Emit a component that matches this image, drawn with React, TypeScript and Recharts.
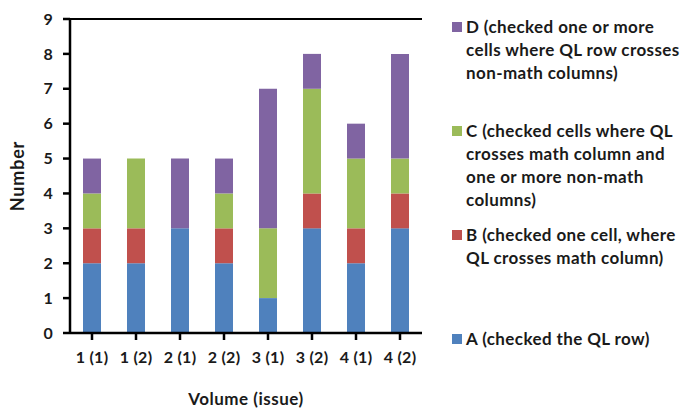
import React from 'react';
import { BarChart, Bar, XAxis, YAxis, CartesianGrid, Legend, ReferenceLine } from 'recharts';

const categories = ['1 (1)', '1 (2)', '2 (1)', '2 (2)', '3 (1)', '3 (2)', '4 (1)', '4 (2)'];
const seriesA = [2, 2, 3, 2, 1, 3, 2, 3];
const seriesB = [1, 1, 0, 1, 0, 1, 1, 1];
const seriesC = [1, 2, 0, 1, 2, 3, 2, 1];
const seriesD = [1, 0, 2, 1, 4, 1, 1, 3];
const yTicks = [0, 1, 2, 3, 4, 5, 6, 7, 8, 9];

const seriesKeys = ['A', 'B', 'C', 'D'];
const seriesColors = ['#4F81BD', '#C0504D', '#9BBB59', '#8064A2'];
const seriesLabels = [
  ['A (checked the QL row)'],
  ['B (checked one cell, where', 'QL crosses math column)'],
  ['C (checked cells where QL', 'crosses math column and', 'one or more non-math', 'columns)'],
  ['D (checked one or more', 'cells where QL row crosses', 'non-math columns)'],
];

const data = categories.map((c, i) => ({
  name: c,
  A: seriesA[i],
  B: seriesB[i],
  C: seriesC[i],
  D: seriesD[i],
}));

const FONT = 'Lato, "Open Sans", sans-serif';
const TEXT = '#1a1a1a';

const LegendContent = () => {
  const order = [3, 2, 1, 0];
  return (
    <div style={{ fontFamily: FONT, fontWeight: 700, fontSize: 17, letterSpacing: 0.4, color: TEXT }}>
      {order.map((i) => (
        <div key={seriesKeys[i]} style={{ height: 104, display: 'flex', alignItems: 'flex-start' }}>
          <div
            style={{
              width: 10,
              height: 10,
              background: seriesColors[i],
              marginTop: 7,
              marginRight: 4,
              flex: 'none',
            }}
          />
          <div style={{ lineHeight: '23px' }}>
            {seriesLabels[i].map((l, j) => (
              <div key={j} style={{ whiteSpace: 'nowrap' }}>{l}</div>
            ))}
          </div>
        </div>
      ))}
    </div>
  );
};

const YLabel = (props: any) => {
  const vb = props.viewBox || {};
  const cy = vb.y + vb.height / 2;
  return (
    <text
      x={17}
      y={cy}
      transform={`rotate(-90, 17, ${cy})`}
      textAnchor="middle"
      dominantBaseline="central"
      fontFamily={FONT}
      fontWeight={700}
      fontSize={18}
      letterSpacing={0.8}
      fill={TEXT}
    >
      Number
    </text>
  );
};

const XLabel = (props: any) => {
  const vb = props.viewBox || {};
  const cx = vb.x + vb.width / 2;
  return (
    <text
      x={cx}
      y={398}
      textAnchor="middle"
      dominantBaseline="central"
      fontFamily={FONT}
      fontWeight={700}
      fontSize={17}
      letterSpacing={0.5}
      fill={TEXT}
    >
      Volume (issue)
    </text>
  );
};

export default function App() {
  const tickStyle = { fontFamily: FONT, fontWeight: 700, fontSize: 16, fill: TEXT, letterSpacing: 0.3 };
  return (
    <div style={{ position: 'absolute', left: 0, top: 0, width: 682, height: 409, background: '#fff' }}>
      <BarChart
        width={682}
        height={409}
        data={data}
        margin={{ top: 19, right: 260, bottom: 0, left: 20 }}
        barCategoryGap={0}
      >
        <CartesianGrid horizontal vertical={false} stroke="#8c8c8c" strokeWidth={1} />
        <XAxis
          dataKey="name"
          height={76}
          tick={tickStyle}
          tickSize={7}
          tickMargin={12}
          axisLine={{ stroke: '#000', strokeWidth: 2.5 }}
          tickLine={{ stroke: '#000', strokeWidth: 2.5 }}
          interval={0}
          label={<XLabel />}
        />
        <YAxis
          yAxisId="left"
          domain={[0, 9]}
          ticks={yTicks}
          width={50}
          tick={tickStyle}
          tickSize={7}
          tickMargin={10}
          axisLine={{ stroke: '#000', strokeWidth: 2.5 }}
          tickLine={{ stroke: '#000', strokeWidth: 2.5 }}
          label={<YLabel />}
          interval={0}
        />
        <YAxis
          yAxisId="right"
          orientation="right"
          domain={[0, 9]}
          width={0}
          tick={false}
          tickLine={false}
          axisLine={{ stroke: '#000', strokeWidth: 1.5 }}
        />
        <ReferenceLine yAxisId="left" y={9} stroke="#000" strokeWidth={2} />
        {seriesKeys.map((k, i) => (
          <Bar
            key={k}
            yAxisId="left"
            dataKey={k}
            stackId="s"
            fill={seriesColors[i]}
            barSize={18}
            isAnimationActive={false}
          />
        ))}
        <Legend
          layout="vertical"
          align="center"
          verticalAlign="middle"
          content={<LegendContent />}
          wrapperStyle={{ position: 'absolute', left: 452, top: 15, width: 230, height: 409 }}
        />
      </BarChart>
    </div>
  );
}
